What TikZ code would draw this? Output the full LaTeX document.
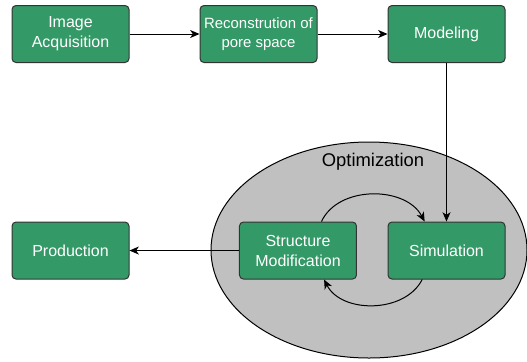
\documentclass[tikz,border=0pt]{standalone}
\usepackage{fontspec}
\setmainfont{Liberation Sans}
\usetikzlibrary{positioning,arrows.meta,shapes.geometric}
\definecolor{boxgreen}{HTML}{339966}
\definecolor{optgray}{HTML}{C0C0C0}
\begin{document}
\begin{tikzpicture}[x=0.75pt, y=0.75pt, node distance={141pt}, line width=0.75pt,
    >={Stealth[length=7pt,width=6pt,inset=2pt]},
    main/.style = {draw=black!80, fill=boxgreen, rounded corners=3pt, minimum width=87.75pt,
        minimum height=42.75pt, inner sep=0pt, text=white, align=center,
        font=\fontsize{12}{15}\selectfont}]
                \tikzstyle{klmain} = [main, font=\fontsize{11.2}{14}\selectfont]
                \tikzstyle{opt} = [draw=black, fill=optgray, ellipse, minimum width=237pt, minimum height=162pt]
                    \useasboundingbox (0,0) rectangle (527,-361);
                    \node[opt] (o) at (369,-250) { };
                    \node[font=\fontsize{13.8}{16}\selectfont] (ol) at (373,-162) {Optimization};

                    \node[main] (ia) at (70.5,-34) {Image\\Acquisition};
                    \node[klmain] (rec) [right of=ia] {Reconstrution of\\pore space};
                    \node[main] (mod) [right of=rec] {Modeling};
                    \node[main, node distance={162.4pt}] (sim) [below of=mod] {Simulation};
                    \node[main, node distance={111.4pt}] (sm) [left of=sim] {Structure\\Modification};
                    \node[main, node distance={162.4pt}] (prod) [below of=ia] {Production};

                    \draw[->] (ia) to (rec);
                    \draw[->] (rec) to (mod);
                    \draw[->] (mod) to (sim);
                    \draw[->] (sm) to (prod);
                    \draw[->] (sm.51) to[out=65,in=118] (sim.127);
                    \draw[->] (sim.230) to[out=-117,in=-63] (sm.312);

                \end{tikzpicture}
\end{document}
